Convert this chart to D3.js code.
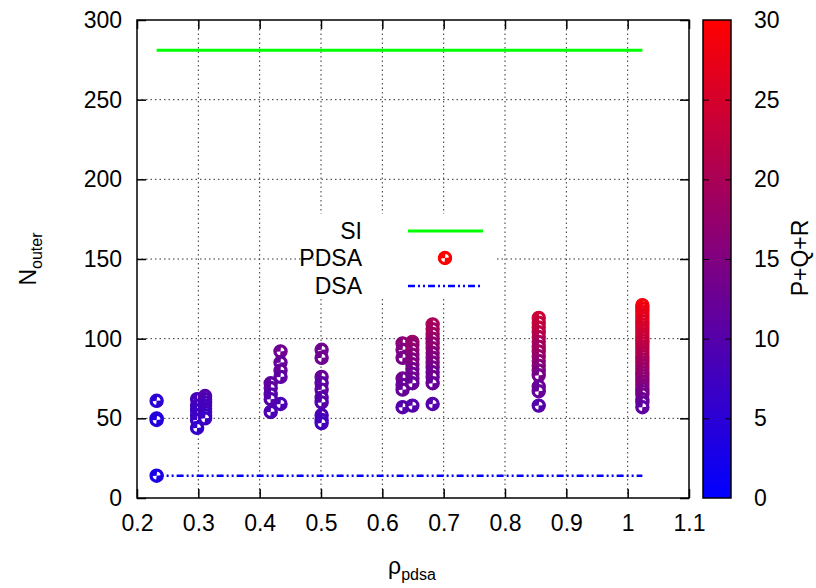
<!DOCTYPE html>
<html><head><meta charset="utf-8">
<script src="https://cdn.jsdelivr.net/npm/d3@7"></script>
<style>body{margin:0;background:#fff}text{font-family:"Liberation Sans",Arial,sans-serif;}</style>
</head><body><svg id="c" width="816" height="588"></svg>
<script>
// ---- data ----
const xTicks = [0.2,0.3,0.4,0.5,0.6,0.7,0.8,0.9,1.0,1.1];
const yTicks = [0,50,100,150,200,250,300];
const cbTicks = [0,5,10,15,20,25,30];
const siRho = [0.232, 1.024];
const siN = [281, 281];
const dsaRho = [0.232, 1.024];
const dsaN = [14, 14];
const clusterRho = [0.232, 0.298, 0.311, 0.418, 0.434, 0.501, 0.633, 0.649, 0.682, 0.855, 1.024];
const clusterN = [
  [61, 50, 49, 14],
  [62, 58, 55, 52, 49, 44],
  [64, 62, 60, 58, 56, 54, 52, 50],
  [72, 69, 65, 62, 54],
  [92, 85, 80, 76, 59],
  [93, 88, 76, 72, 68, 63, 60, 52, 49, 47],
  [97, 93, 88, 75, 71, 68, 57],
  [98, 96, 93, 90, 87, 84, 81, 78, 75, 72, 58],
  [109, 106, 103, 100, 97, 94, 91, 88, 85, 82, 79, 76, 72, 59],
  [113, 110, 107, 104, 101, 98, 95, 92, 89, 86, 83, 80, 77, 70, 67, 58],
  [121, 119, 117, 115, 113, 111, 109, 107, 105, 103, 101, 99, 97, 95, 93, 91, 89, 87, 85, 83, 81, 79, 77, 75, 73, 71, 69, 67, 65, 62, 60, 57]
];
const clusterPQR = [
  [5, 4, 4, 3],
  [8, 8, 7, 7, 7, 6],
  [10, 9, 9, 8, 8, 8, 7, 7],
  [11, 11, 10, 10, 9],
  [13, 12, 12, 11, 9],
  [13, 13, 12, 11, 11, 10, 10, 9, 8, 8],
  [16, 15, 14, 13, 12, 12, 10],
  [18, 17, 17, 16, 15, 15, 14, 13, 13, 12, 10],
  [20, 19, 19, 18, 17, 17, 16, 15, 15, 14, 13, 13, 12, 10],
  [24, 23, 23, 22, 21, 20, 19, 19, 18, 17, 16, 15, 14, 12, 12, 10],
  [29, 28, 28, 27, 27, 26, 26, 25, 25, 24, 24, 23, 23, 22, 22, 21, 21, 20, 19, 19, 18, 18, 17, 17, 16, 16, 15, 14, 14, 13, 12, 11]
];

// ---- layout ----
const svg = d3.select("#c");
const L = 137, R = 689, T = 20, B = 498;
const x = d3.scaleLinear().domain([0.2, 1.1]).range([L, R]);
const y = d3.scaleLinear().domain([0, 300]).range([B, T]);
const cmin = 0, cmax = 30;
const color = d3.scaleLinear().domain([cmin, cmax]).range(["#0000ff", "#ff0000"]).interpolate(d3.interpolateRgb);
const fs = "23px", fsSub = "16px";
const ff = "Liberation Sans, Arial, sans-serif";

// grid
const grid = svg.append("g");
xTicks.slice(1, -1).forEach(t => grid.append("line").attr("x1", x(t)).attr("x2", x(t)).attr("y1", T).attr("y2", B)
  .attr("stroke", "#333").attr("stroke-width", 1).attr("stroke-dasharray", "1.5,3"));
yTicks.slice(1, -1).forEach(t => grid.append("line").attr("x1", L).attr("x2", R).attr("y1", y(t)).attr("y2", y(t))
  .attr("stroke", "#333").attr("stroke-width", 1).attr("stroke-dasharray", "1.5,3"));

// axes with inward ticks (mirrored)
const ax = svg.append("g").attr("transform", `translate(0,${B})`)
  .call(d3.axisBottom(x).tickValues(xTicks).tickSize(-9).tickPadding(25).tickFormat(d => String(+d.toFixed(1))));
const axT = svg.append("g").attr("transform", `translate(0,${T})`)
  .call(d3.axisTop(x).tickValues(xTicks).tickSize(-9).tickFormat(""));
const ay = svg.append("g").attr("transform", `translate(${L},0)`)
  .call(d3.axisLeft(y).tickValues(yTicks).tickSize(-9).tickPadding(15));
const ayR = svg.append("g").attr("transform", `translate(${R},0)`)
  .call(d3.axisRight(y).tickValues(yTicks).tickSize(-9).tickFormat(""));
[ax, axT, ay, ayR].forEach(g => {
  g.select(".domain").remove();
  g.selectAll(".tick line").attr("stroke", "#000").attr("stroke-width", 1.5);
  g.selectAll("text").attr("font-size", fs).attr("fill", "#000").style("font-family", ff);
});
ax.selectAll("text").attr("dy", "0.35em");

// legend background (opaque)
svg.append("rect").attr("x", 318).attr("y", 214).attr("width", 178).attr("height", 84).attr("fill", "#fff");

// SI line
const line = d3.line().x(d => x(d[0])).y(d => y(d[1]));
svg.append("path").datum(d3.zip(siRho, siN)).attr("d", line)
  .attr("stroke", "#00ff00").attr("stroke-width", 3).attr("fill", "none");
// DSA line
svg.append("path").datum(d3.zip(dsaRho, dsaN)).attr("d", line)
  .attr("stroke", "#0000ff").attr("stroke-width", 2.5).attr("fill", "none").attr("stroke-dasharray", "7,3,2,3,2,3");

// marker
function marker(g, cx, cy, col) {
  const m = g.append("g").attr("transform", `translate(${cx},${cy})`);
  m.append("circle").attr("r", 6.6).attr("fill", col).attr("stroke", col).attr("stroke-width", 1.2);
  const arc = d3.arc().innerRadius(0).outerRadius(3.9);
  m.append("path").attr("d", arc({startAngle: 0.1, endAngle: Math.PI / 2 - 0.1})).attr("fill", "#fff");
  m.append("path").attr("d", arc({startAngle: Math.PI + 0.1, endAngle: 1.5 * Math.PI - 0.1})).attr("fill", "#fff");
}
const pts = svg.append("g");
clusterRho.forEach((r, i) => {
  clusterN[i].forEach((n, j) => marker(pts, x(r), y(n), color(clusterPQR[i][j])));
});

// frame
svg.append("rect").attr("x", L).attr("y", T).attr("width", R - L).attr("height", B - T)
  .attr("fill", "none").attr("stroke", "#000").attr("stroke-width", 1.5);

// legend
const lg = svg.append("g").attr("font-size", fs);
lg.append("text").attr("x", 362).attr("y", 239).attr("text-anchor", "end").text("SI");
lg.append("line").attr("x1", 408).attr("x2", 483).attr("y1", 231).attr("y2", 231).attr("stroke", "#00ff00").attr("stroke-width", 3);
lg.append("text").attr("x", 362).attr("y", 266).attr("text-anchor", "end").text("PDSA");
marker(lg, 445, 258, "#ff0000");
lg.append("text").attr("x", 362).attr("y", 294).attr("text-anchor", "end").text("DSA");
lg.append("line").attr("x1", 408).attr("x2", 483).attr("y1", 286).attr("y2", 286).attr("stroke", "#0000ff").attr("stroke-width", 2.5).attr("stroke-dasharray", "7,3,2,3,2,3");

// axis titles
const xt = svg.append("text").attr("x", 412).attr("y", 574).attr("text-anchor", "middle").attr("font-size", fs);
xt.append("tspan").text("ρ");
xt.append("tspan").attr("font-size", fsSub).attr("dy", 6).text("pdsa");
const yt = svg.append("text").attr("transform", "translate(36,259) rotate(-90)").attr("text-anchor", "middle").attr("font-size", fs);
yt.append("tspan").text("N");
yt.append("tspan").attr("font-size", fsSub).attr("dy", 6).text("outer");

// colorbar
const cbL = 703, cbR = 731;
const cy = d3.scaleLinear().domain([cmin, cmax]).range([B, T]);
const defs = svg.append("defs");
const grad = defs.append("linearGradient").attr("id", "cbg").attr("x1", 0).attr("x2", 0).attr("y1", 1).attr("y2", 0);
cbTicks.forEach(t => grad.append("stop").attr("offset", (t - cmin) / (cmax - cmin)).attr("stop-color", color(t)));
svg.append("rect").attr("x", cbL).attr("y", T).attr("width", cbR - cbL).attr("height", B - T)
  .attr("fill", "url(#cbg)").attr("stroke", "#000").attr("stroke-width", 1.5);
const cbAx = svg.append("g").attr("transform", `translate(${cbR},0)`)
  .call(d3.axisRight(cy).tickValues(cbTicks).tickSize(-6).tickPadding(23));
const cbAxL = svg.append("g").attr("transform", `translate(${cbL},0)`)
  .call(d3.axisLeft(cy).tickValues(cbTicks.slice(1, -1)).tickSize(-6).tickFormat(""));
[cbAx, cbAxL].forEach(g => {
  g.select(".domain").remove();
  g.selectAll(".tick line").attr("stroke", "#000").attr("stroke-width", 1);
  g.selectAll("text").attr("font-size", fs).attr("fill", "#000").style("font-family", ff);
});
cbAx.selectAll(".tick").filter(d => d === 0 || d === 30).select("line").remove();
svg.append("text").attr("transform", "translate(808,258) rotate(-90)").attr("text-anchor", "middle").attr("font-size", fs).text("P+Q+R");
</script></body></html>
